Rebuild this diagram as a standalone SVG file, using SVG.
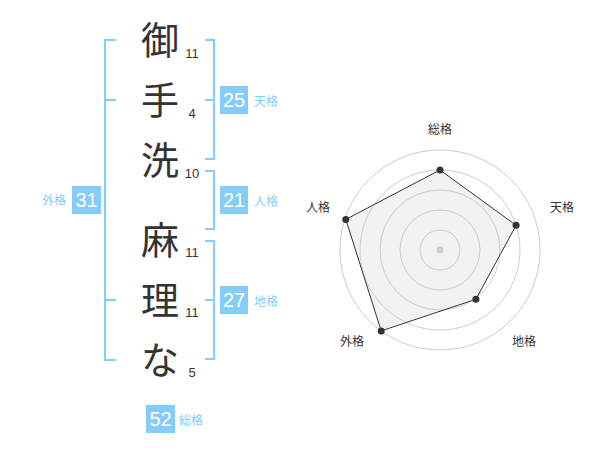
<svg xmlns="http://www.w3.org/2000/svg" width="600" height="470" viewBox="0 0 600 470">
<style>
.ch{font-family:"Noto Sans CJK JP","Noto Sans CJK SC",sans-serif;font-size:38px;fill:#333;text-anchor:middle}
.num{font-family:"Liberation Sans",Arial,sans-serif;font-size:13px;fill:#333;text-anchor:middle}
.br{fill:none;stroke:#85cdf9;stroke-width:2}
.box{fill:#85cdf9}
.bt{font-family:"Liberation Sans",Arial,sans-serif;font-size:20px;fill:#fff;text-anchor:middle}
.lb{font-family:"Noto Sans CJK JP",sans-serif;font-size:12px;fill:#85cdf9}
.rl{font-family:"Noto Sans CJK JP",sans-serif;font-size:12px;fill:#333;text-anchor:middle}
.ring{fill:none;stroke:#cccccc;stroke-width:1}
</style>
<rect width="600" height="470" fill="#fff"/>
<g id="chars">
<text class="ch" x="160" y="54">御</text>
<text class="ch" x="160" y="114">手</text>
<text class="ch" x="160" y="174">洗</text>
<text class="ch" x="160" y="254">麻</text>
<text class="ch" x="160" y="314">理</text>
<text class="ch" x="160" y="374">な</text>
</g>
<g id="strokes">
<text class="num" x="192" y="58">11</text>
<text class="num" x="192" y="118">4</text>
<text class="num" x="192" y="178">10</text>
<text class="num" x="192" y="257">11</text>
<text class="num" x="192" y="317">11</text>
<text class="num" x="192" y="377">5</text>
</g>
<g id="connectors">
<path class="br" d="M116,40 H105 V360 H116 M105,100 H116 M105,300 H116"/>
<path class="br" d="M205,40 H214 V159 H205 M205,100 H214"/>
<path class="br" d="M205,171 H214 V229 H205"/>
<path class="br" d="M205,241 H214 V359 H205 M205,300 H214"/>
</g>
<g id="tenkaku">
<rect class="box" x="220" y="86" width="28" height="28"/>
<text class="bt" x="234" y="107">25</text>
<text class="lb" x="254" y="106">天格</text>
</g>
<g id="jinkaku">
<rect class="box" x="220" y="186" width="28" height="28"/>
<text class="bt" x="234" y="207">21</text>
<text class="lb" x="254" y="206">人格</text>
</g>
<g id="chikaku">
<rect class="box" x="220" y="286" width="28" height="28"/>
<text class="bt" x="234" y="307">27</text>
<text class="lb" x="254" y="306">地格</text>
</g>
<g id="gaikaku">
<rect class="box" x="72" y="186" width="29" height="28"/>
<text class="bt" x="86.5" y="207">31</text>
<text class="lb" x="66" y="205" text-anchor="end">外格</text>
</g>
<g id="soukaku">
<rect class="box" x="146" y="405" width="29" height="28"/>
<text class="bt" x="160.5" y="426">52</text>
<text class="lb" x="179" y="425">総格</text>
</g>
<g id="radar">
<polygon points="440,170 516.1,225.3 475.9,299.3 381.2,330.9 345.8,219.4" fill="#f2f2f2" stroke="none"/>
<circle class="ring" cx="440" cy="250" r="20"/>
<circle class="ring" cx="440" cy="250" r="40"/>
<circle class="ring" cx="440" cy="250" r="60"/>
<circle class="ring" cx="440" cy="250" r="80"/>
<circle class="ring" cx="440" cy="250" r="100"/>
<polygon points="440,170 516.1,225.3 475.9,299.3 381.2,330.9 345.8,219.4" fill="none" stroke="#333" stroke-width="1"/>
<circle cx="440" cy="250" r="3.5" fill="#cccccc"/>
<g fill="#333">
<circle cx="440" cy="170" r="3.5"/>
<circle cx="516.1" cy="225.3" r="3.5"/>
<circle cx="475.9" cy="299.3" r="3.5"/>
<circle cx="381.2" cy="330.9" r="3.5"/>
<circle cx="345.8" cy="219.4" r="3.5"/>
</g>
<text class="rl" x="440" y="134">総格</text>
<text class="rl" x="562" y="212">天格</text>
<text class="rl" x="524" y="346">地格</text>
<text class="rl" x="352" y="346">外格</text>
<text class="rl" x="318" y="212">人格</text>
</g>
</svg>
